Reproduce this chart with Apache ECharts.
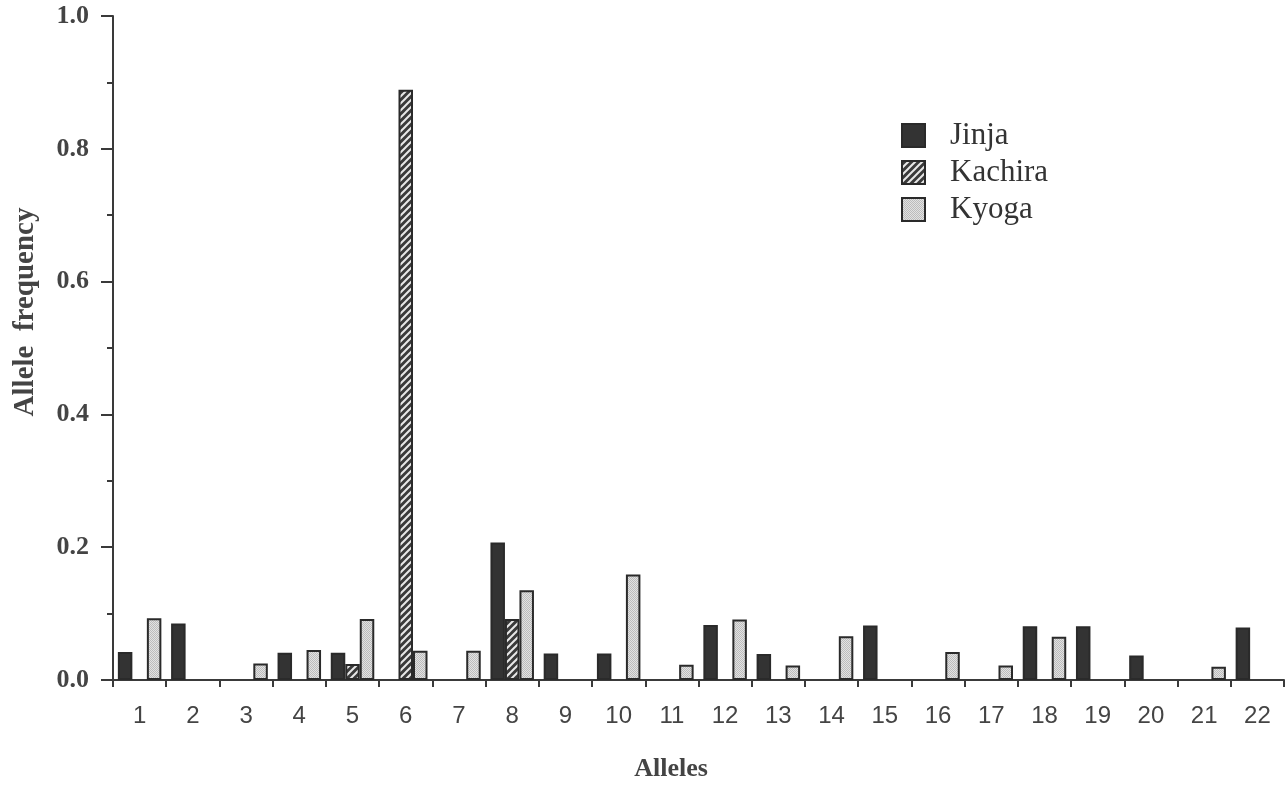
<!DOCTYPE html>
<html><head><meta charset="utf-8">
<script src="https://cdn.jsdelivr.net/npm/echarts@6/dist/echarts.min.js"></script>
<style>html,body{margin:0;padding:0;background:#fff}#c{width:1286px;height:785px}</style>
</head><body><div id="c"></div>
<script>
const categories = ['1','2','3','4','5','6','7','8','9','10','11','12','13','14','15','16','17','18','19','20','21','22'];
const jinja   = [0.042,0.085,null,0.041,0.041,null,null,0.207,0.040,0.040,null,0.083,0.039,null,0.082,null,null,0.081,0.081,0.037,null,0.079];
const kachira = [null,null,null,null,0.024,0.889,null,0.092,null,null,null,null,null,null,null,null,null,null,null,null,null,null];
const kyoga   = [0.093,null,0.025,0.045,0.092,0.044,0.044,0.135,null,0.159,0.023,0.091,0.022,0.066,null,0.042,0.022,0.065,null,null,0.020,null];
const yTicks = [0.0,0.2,0.4,0.6,0.8,1.0];

function hatch(){
  const s=7, c=document.createElement('canvas'); c.width=s; c.height=s;
  const g=c.getContext('2d'); g.fillStyle='#3a3a3a'; g.fillRect(0,0,s,s);
  g.strokeStyle='#e8e8e8'; g.lineWidth=2;
  [0,s,2*s].forEach(k=>{g.beginPath();g.moveTo(-1,k+1);g.lineTo(k+1,-1);g.stroke();});
  return c;
}
function stipple(){
  const c=document.createElement('canvas'); c.width=2; c.height=2;
  const g=c.getContext('2d'); g.fillStyle='#e2e2e2'; g.fillRect(0,0,2,2);
  g.fillStyle='#bcbcbc'; g.fillRect(0,0,1,1); g.fillRect(1,1,1,1);
  return c;
}
const chart = echarts.init(document.getElementById('c'));
const serif = '"Liberation Serif","DejaVu Serif",serif';
const sans = '"Liberation Sans",Arial,sans-serif';
chart.setOption({
  animation:false,
  backgroundColor:'#fff',
  grid:{left:113,right:2,top:16,bottom:105,containLabel:false,outerBoundsMode:'none'},
  legend:{
    orient:'vertical', left:901, top:120, itemWidth:23, itemHeight:23, itemGap:6,
    icon:'rect', padding:0,
    textStyle:{fontFamily:serif,fontSize:31,color:'#333',padding:[0,0,0,20]},
    data:['Jinja','Kachira','Kyoga']
  },
  xAxis:{
    type:'category', data:categories, boundaryGap:true,
    axisLine:{lineStyle:{color:'#3a3a3a',width:2}},
    axisTick:{show:true,length:7,lineStyle:{color:'#3a3a3a',width:2}},
    axisLabel:{fontFamily:sans,fontSize:24,color:'#444',margin:24,interval:0}
  },
  yAxis:{
    type:'value', min:0, max:1, interval:0.2,
    splitLine:{show:false},
    axisLine:{show:true,lineStyle:{color:'#3a3a3a',width:2}},
    axisTick:{show:true,length:12,lineStyle:{color:'#3a3a3a',width:2}},
    minorTick:{show:true,splitNumber:2,length:6,lineStyle:{color:'#3a3a3a',width:2}},
    axisLabel:{fontFamily:serif,fontWeight:'bold',fontSize:26,color:'#444',margin:24,
      formatter:v=>{const t=yTicks.find(x=>Math.abs(x-v)<1e-9);return (t===undefined?v:t).toFixed(1);}}
  },
  graphic:[
    {type:'text',x:671,y:769,style:{text:'Alleles',font:'bold 26px '+serif,fill:'#444',align:'center',verticalAlign:'middle'}},
    {type:'text',rotation:Math.PI/2,x:26,y:312,style:{text:'Allele  frequency',font:'bold 29px '+serif,fill:'#444',align:'center',verticalAlign:'middle'}}
  ],
  series:[
    {name:'Jinja',type:'bar',data:jinja,barWidth:14.5,barGap:'0%',
      itemStyle:{color:'#333',borderColor:'#2a2a2a',borderWidth:2}},
    {name:'Kachira',type:'bar',data:kachira,barWidth:14.5,barGap:'0%',
      itemStyle:{color:{image:hatch(),repeat:'repeat'},borderColor:'#2a2a2a',borderWidth:2}},
    {name:'Kyoga',type:'bar',data:kyoga,barWidth:14.5,barGap:'0%',
      itemStyle:{color:{image:stipple(),repeat:'repeat'},borderColor:'#2a2a2a',borderWidth:2}}
  ]
});
</script></body></html>
